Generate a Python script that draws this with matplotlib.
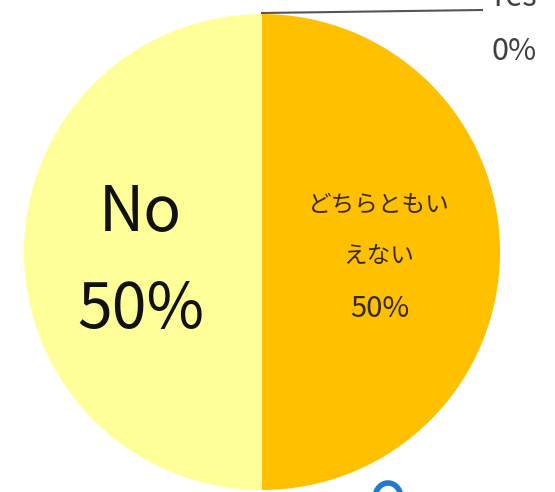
import matplotlib
matplotlib.use("Agg")
from matplotlib import pyplot as plt
from matplotlib.patches import Arc

plt.rcParams['font.family'] = ['Noto Sans CJK JP', 'DejaVu Sans']

# data
labels = ["Yes", "どちらともいえない", "No"]
values = [0, 50, 50]
colors = ["#5B9BD5", "#FFC000", "#FFFF99"]

W, H = 555, 492
fig = plt.figure(figsize=(W / 100, H / 100), dpi=100)
ax = fig.add_axes([0, 0, 1, 1])

cx, cy, r = 262, H - 252, 238
wedges, _ = ax.pie(values, colors=colors, startangle=90, counterclock=False,
                   center=(cx, cy), radius=r, frame=True,
                   wedgeprops=dict(linewidth=0))
ax.set_xlim(0, W)
ax.set_ylim(0, H)
ax.set_aspect("equal")
ax.axis("off")

# No 50%
ax.text(cx - 122, H - 213, labels[2], ha="center", va="center", fontsize=45, color="#111111")
ax.text(cx - 121, H - 310, "%d%%" % values[2], ha="center", va="center", fontsize=45, color="#111111")

# どちらともいえない 50%
jc = "#3A2C05"
ax.text(cx + 117, H - 205, labels[1][:6], ha="center", va="center", fontsize=17, color=jc)
ax.text(cx + 117, H - 256, labels[1][6:], ha="center", va="center", fontsize=17, color=jc)
ax.text(cx + 118, H - 309, "%d%%" % values[1], ha="center", va="center", fontsize=21, color=jc)

# Yes 0% with leader line
ax.plot([cx, 482], [cy + r + 1, H - 10], color="#555555", lw=1.5)
ax.text(514, H + 2, labels[0], ha="center", va="center", fontsize=22, color="#404040")
ax.text(514, H - 52, "%d%%" % values[0], ha="center", va="center", fontsize=22, color="#404040")

# small blue arc cropped at bottom
ax.add_patch(Arc((388, -6), 26, 30, theta1=20, theta2=200, color="#1F7AC9", lw=4))

fig.savefig("out.png", dpi=100)
